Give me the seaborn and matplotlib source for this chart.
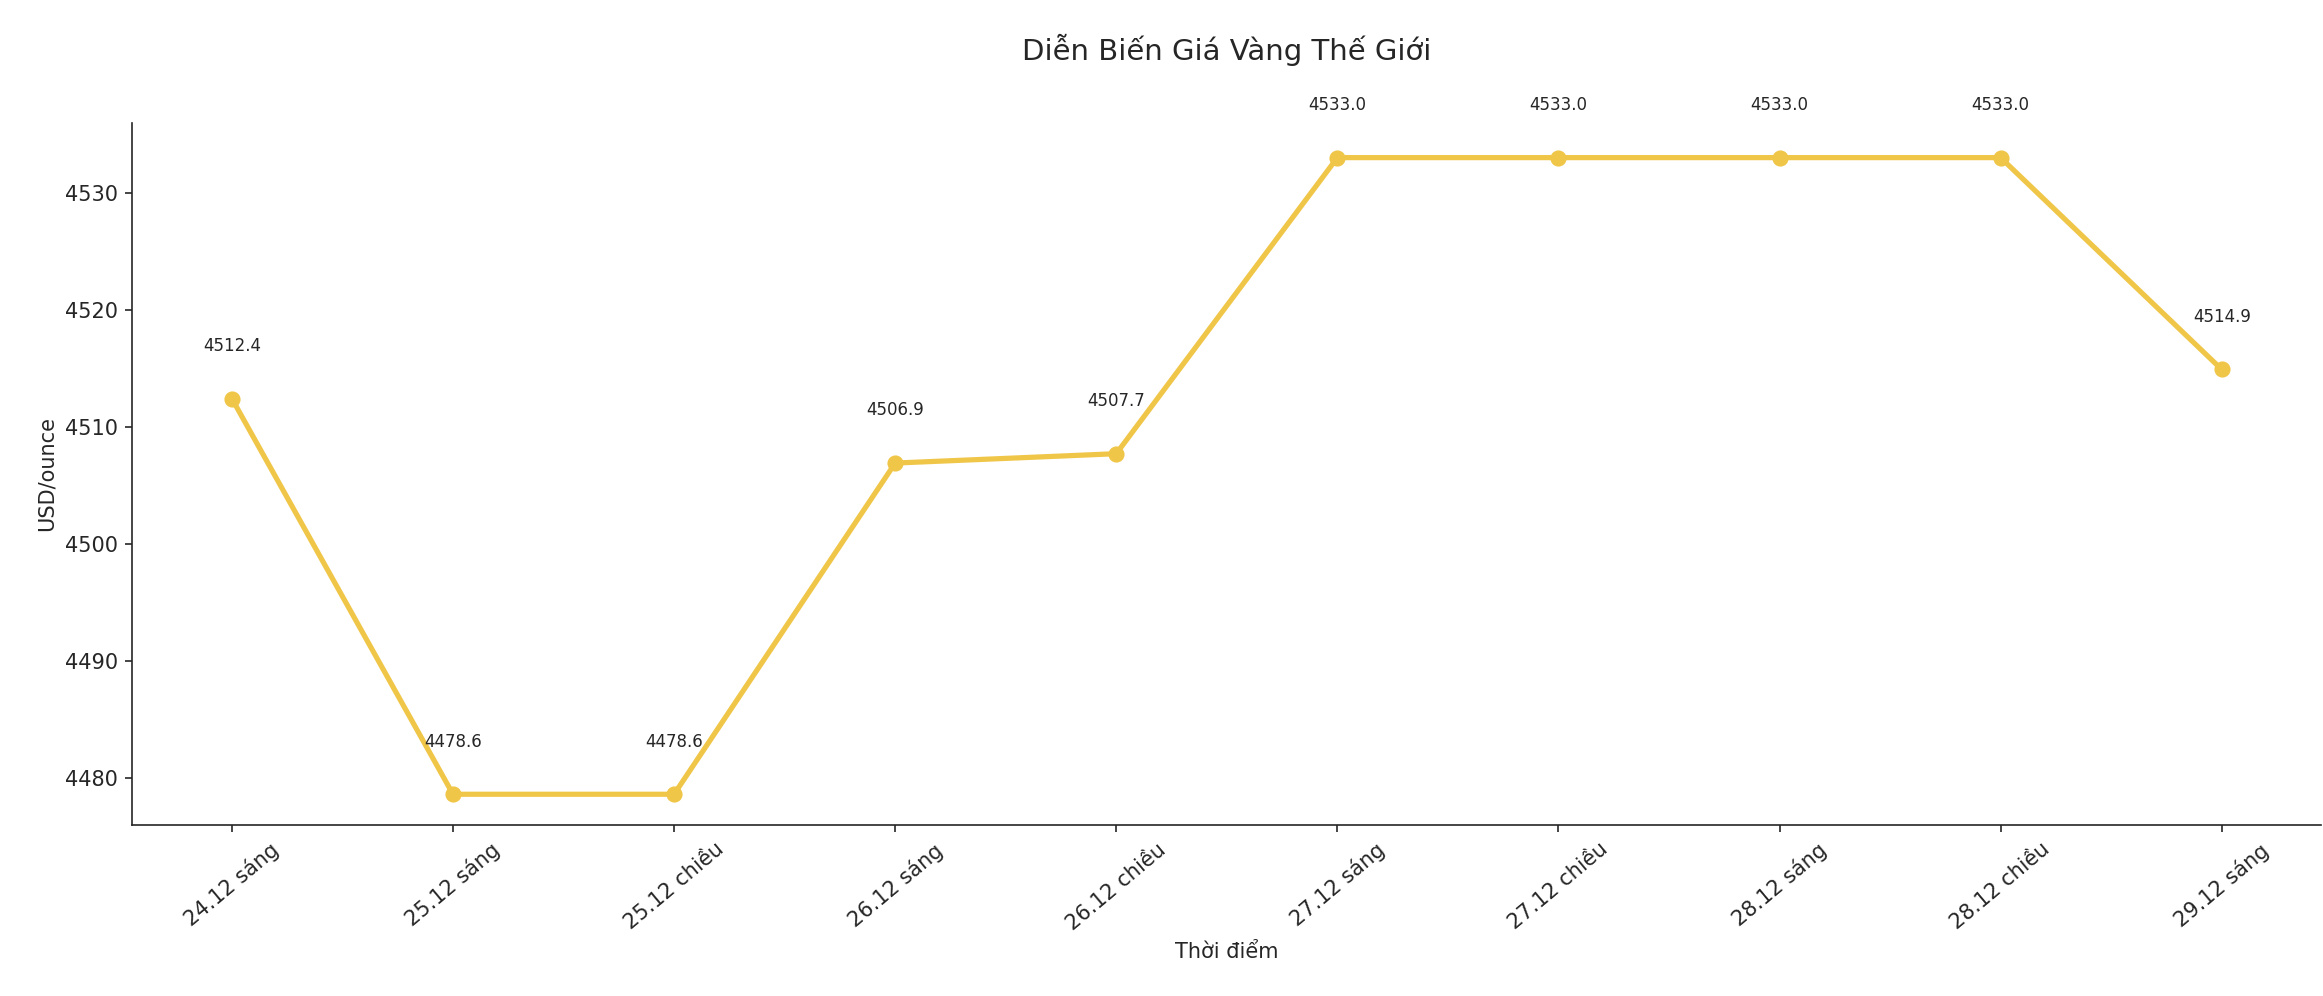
import matplotlib
matplotlib.use("Agg")
import matplotlib.pyplot as plt
import seaborn as sns
import pandas as pd

labels = ["24.12 sáng", "25.12 sáng", "25.12 chiều", "26.12 sáng", "26.12 chiều",
          "27.12 sáng", "27.12 chiều", "28.12 sáng", "28.12 chiều", "29.12 sáng"]
values = [4512.4, 4478.6, 4478.6, 4506.9, 4507.7, 4533.0, 4533.0, 4533.0, 4533.0, 4514.9]

df = pd.DataFrame({"t": labels, "v": values})
sns.set_style("ticks")
plt.rcParams['font.family'] = ['DejaVu Sans']

fig, ax = plt.subplots(figsize=(15.49, 6.64), dpi=150)
color = "#F0C649"
sns.lineplot(data=df, x="t", y="v", ax=ax, color=color, linewidth=2.5, marker="o",
             markersize=7, markeredgecolor=color, sort=False)
for i, v in enumerate(values):
    ax.annotate(f"{v:.1f}", (i, v), textcoords="offset points", xytext=(0, 21),
                ha="center", va="bottom", fontsize=8)
ax.set_xlim(-0.45, 9.45)
ax.set_ylim(4476, 4536)
ax.set_xlabel("Thời điểm", fontsize=10)
ax.set_ylabel("USD/ounce", fontsize=10)
ax.set_title("Diễn Biến Giá Vàng Thế Giới", fontsize=14, pad=30)
plt.setp(ax.get_xticklabels(), rotation=40)
sns.despine(ax=ax)
fig.subplots_adjust(left=0.057, right=0.999, top=0.877, bottom=0.172)
fig.savefig("out.png", dpi=150)
